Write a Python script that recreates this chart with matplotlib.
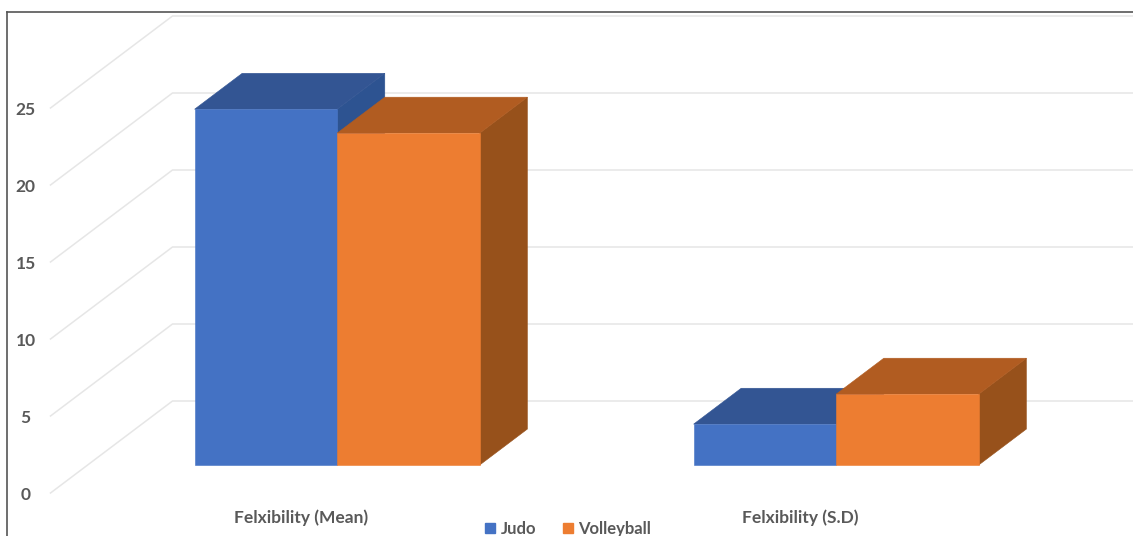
"""3-D style clustered column chart of flexibility scores, judo vs volleyball."""

import matplotlib

matplotlib.use("Agg")
import matplotlib.pyplot as plt
from matplotlib.lines import Line2D
from matplotlib.patches import Patch, Polygon

categories = ["Felxibility (Mean)", "Felxibility (S.D)"]
series_names = ["Judo", "Volleyball"]
judo_values = [23.1, 2.65]
volleyball_values = [21.55, 4.6]
y_ticks = [0, 5, 10, 15, 20, 25]

WIDTH, HEIGHT = 1133, 536
PX_PER_CAT = 499.0
PX_PER_UNIT = 15.4
ZERO_X, ZERO_Y = 300.0, 493.0
DEPTH_X = 122.0 / PX_PER_CAT
DEPTH_Y = 92.0 / PX_PER_UNIT
BAR_WIDTH = 142.6 / PX_PER_CAT

FRONT_COLORS = ["#4472C4", "#ED7D31"]
TOP_COLORS = ["#335593", "#B15C21"]
SIDE_COLORS = ["#2D5391", "#97511B"]
GRID_COLOR = "#E6E6E6"
TEXT_COLOR = "#595959"

plt.rcParams["font.family"] = ["Lato", "DejaVu Sans"]


def project(x, value, depth):
    return (x + DEPTH_X * depth, value + DEPTH_Y * depth)


def draw_bar(ax, left, value, colors):
    front, top, side = colors
    right = left + BAR_WIDTH
    near, far = 0.305, 0.695
    side_pts = [
        project(right, 0, near),
        project(right, 0, far),
        project(right, value, far),
        project(right, value, near),
    ]
    top_pts = [
        project(left, value, near),
        project(right, value, near),
        project(right, value, far),
        project(left, value, far),
    ]
    front_pts = [
        project(left, 0, near),
        project(right, 0, near),
        project(right, value, near),
        project(left, value, near),
    ]
    for pts, color in ((side_pts, side), (top_pts, top), (front_pts, front)):
        ax.add_patch(Polygon(pts, closed=True, facecolor=color, edgecolor=color, lw=0.4, zorder=3))


fig = plt.figure(figsize=(WIDTH / 100, HEIGHT / 100), dpi=100)
ax = fig.add_axes([0, 0, 1, 1])
ax.set_xlim(-ZERO_X / PX_PER_CAT, (WIDTH - ZERO_X) / PX_PER_CAT)
ax.set_ylim((ZERO_Y - HEIGHT) / PX_PER_UNIT, ZERO_Y / PX_PER_UNIT)
ax.axis("off")

# side wall and back wall gridlines
left_edge = -0.5
for tick in y_ticks:
    back = project(left_edge, tick, 1)
    ax.plot(
        [left_edge, back[0], ax.get_xlim()[1]],
        [tick, back[1], back[1]],
        color=GRID_COLOR,
        lw=1.1,
        zorder=1,
    )
    ax.text(left_edge - 0.05, tick - 0.13, str(tick), ha="center", va="center",
            fontsize=12.5, fontweight="bold", color=TEXT_COLOR)

for i, name in enumerate(categories):
    draw_bar(ax, i - BAR_WIDTH, judo_values[i], (FRONT_COLORS[0], TOP_COLORS[0], SIDE_COLORS[0]))
    draw_bar(ax, i, volleyball_values[i], (FRONT_COLORS[1], TOP_COLORS[1], SIDE_COLORS[1]))
    ax.text(i + 0.002, (ZERO_Y - 518) / PX_PER_UNIT, name, ha="center", va="center",
            fontsize=12.5, fontweight="bold", color=TEXT_COLOR)

handles = [Patch(facecolor=c, edgecolor=c) for c in FRONT_COLORS]
ax.legend(
    handles,
    series_names,
    loc="center",
    bbox_to_anchor=(568 / WIDTH, 1 - 529 / HEIGHT),
    ncol=2,
    frameon=False,
    handlelength=0.6,
    handleheight=0.6,
    handletextpad=0.3,
    columnspacing=1.6,
    borderpad=0,
    prop={"size": 12, "weight": "bold"},
    labelcolor=TEXT_COLOR,
)

# frame around the top and left of the chart area
fig.add_artist(Line2D([7 / WIDTH, 7 / WIDTH], [0, 1 - 12 / HEIGHT], color="#555555", lw=1.2))
fig.add_artist(Line2D([7 / WIDTH, 1], [1 - 12 / HEIGHT, 1 - 12 / HEIGHT], color="#555555", lw=1.2))

fig.savefig("out.png", dpi=100)
plt.close(fig)
